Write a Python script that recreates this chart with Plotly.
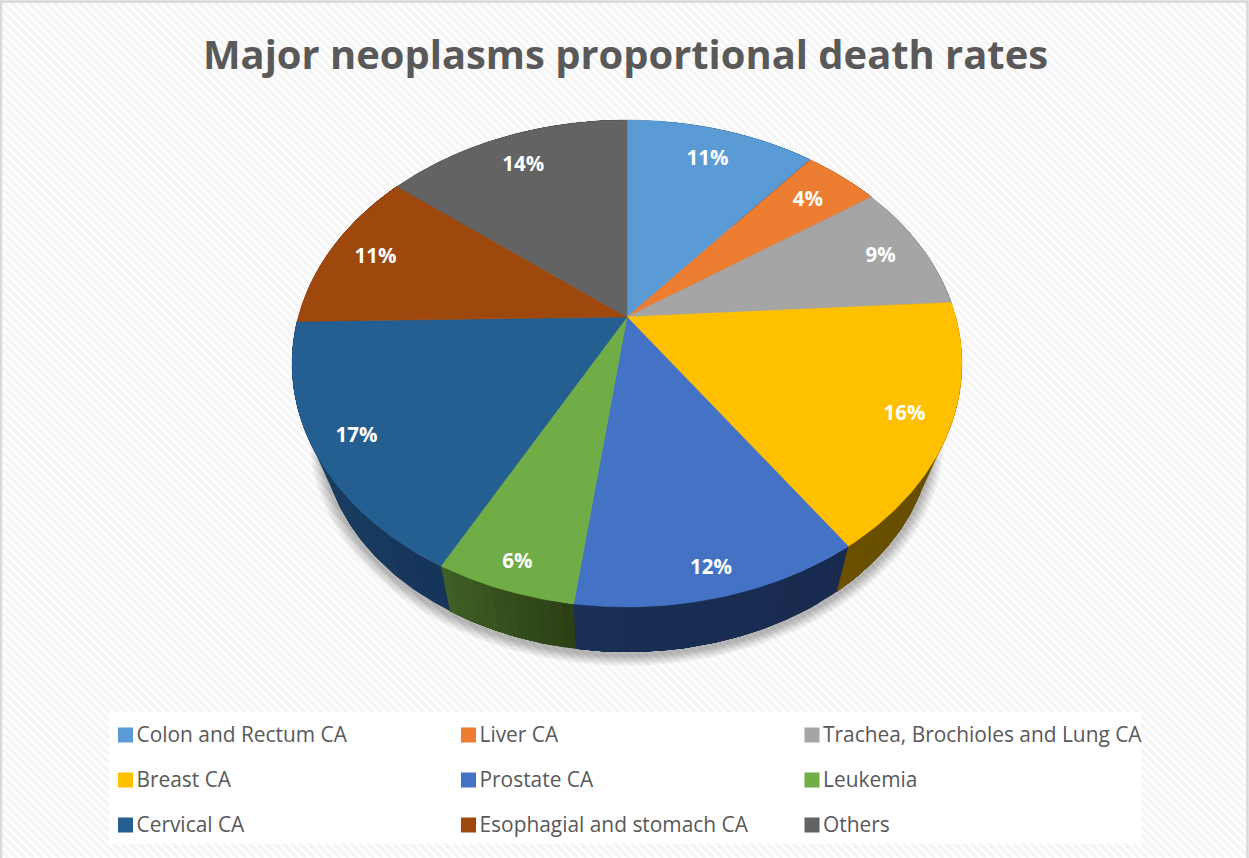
import numpy as np
import plotly.graph_objects as go

# ---- data ----
categories = ["Colon and Rectum CA", "Liver CA", "Trachea, Brochioles and Lung CA",
              "Breast CA", "Prostate CA", "Leukemia",
              "Cervical CA", "Esophagial and stomach CA", "Others"]
values = [11.0, 4.4, 8.6, 16.4, 11.7, 5.7, 16.9, 11.0, 14.3]
title_text = "Major neoplasms proportional death rates"

# ---- style ----
colors = ["#5B9BD5", "#ED7D31", "#A5A5A5", "#FFC000", "#4472C4", "#70AD47", "#255E91", "#9E480E", "#636363"]
side_start = ["#2F5D87", "#8A4A1D", "#636363", "#6A5000", "#1A2F55", "#3F5F24", "#1C4468", "#5F2B08", "#3B3B3B"]
side_end = ["#2F5D87", "#8A4A1D", "#636363", "#5F4800", "#182A4E", "#2C4015", "#15365A", "#5F2B08", "#3B3B3B"]
label_radius = [0.83, 0.825, 0.86, 0.87, 0.91, 0.91, 0.88, 0.85, 0.83]
W, H = 1249, 858
CX, CY = 627, 317
A, B, K = 328.8, 234.6, 0.191      # perspective projection of the pie's top face
A2, B2, K2, D2 = 296.5, 208, 0.24, 61.3   # same for its lower face
TEXT = "#595959"
FONT = "Open Sans"


def project(theta, r=1.0, a=A, b=B, k=K):
    u, v = r * np.sin(theta), -r * np.cos(theta)
    den = 1 - k * v
    return a * u / den, b * v / den


def top(theta, r=1.0):
    x, y = project(theta, r)
    return CX + x, CY + y


def bottom(theta):
    x, y = project(theta, 1.0, A2, B2, K2)
    return CX + x, CY + D2 + y


def mix(c0, c1, t):
    a = [int(c0[i:i + 2], 16) for i in (1, 3, 5)]
    b = [int(c1[i:i + 2], 16) for i in (1, 3, 5)]
    return "#%02x%02x%02x" % tuple(round(p + (q - p) * t) for p, q in zip(a, b))


total = sum(values)
edges = np.concatenate([[0], np.cumsum(values)]) / total * 2 * np.pi
arcs = [np.linspace(edges[i], edges[i + 1], 96) for i in range(len(values))]

fig = go.Figure()

# soft shadow round the lower rim
full = np.linspace(0, 2 * np.pi, 361)
for grow in [12, 10, 8, 6.5, 5, 3.5, 2]:
    bx, by = bottom(full)
    f = 1 + grow / 305
    fig.add_trace(go.Scatter(x=CX + (bx - CX) * f, y=CY + D2 + 3 + (by - CY - D2) * f,
                             mode="lines", fill="toself", line=dict(width=0),
                             fillcolor="rgba(0,0,0,0.045)", hoverinfo="skip", showlegend=False))

# rim, shaded along each slice; each band runs to the slice end so that no seams show
STRIPS = 12
for i, th in enumerate(arcs):
    step = len(th) // STRIPS
    for s in range(STRIPS):
        part = th[s * step:]
        tx, ty = top(part)
        bx, by = bottom(part)
        col = mix(side_end[i], side_start[i], s / (STRIPS - 1))
        fig.add_trace(go.Scatter(x=np.concatenate([tx, bx[::-1]]), y=np.concatenate([ty, by[::-1]]),
                                 mode="lines", fill="toself", line=dict(width=0),
                                 fillcolor=col, hoverinfo="skip", showlegend=False))

# top face
for i, th in enumerate(arcs):
    tx, ty = top(th)
    fig.add_trace(go.Scatter(x=np.concatenate([[CX], tx, [CX]]), y=np.concatenate([[CY], ty, [CY]]),
                             mode="lines", fill="toself", line=dict(width=0.5, color=colors[i]),
                             fillcolor=colors[i], name=categories[i], hoverinfo="name", showlegend=False))

# percentage labels
mids = (edges[:-1] + edges[1:]) / 2
lx, ly = zip(*[top(m, r) for m, r in zip(mids, label_radius)])
fig.add_trace(go.Scatter(x=lx, y=np.array(ly) + 2, mode="text",
                         text=[f"{round(v / total * 100)}%" for v in values],
                         textposition="middle center",
                         textfont=dict(family=FONT, size=20.5, color="white", weight="bold"),
                         hoverinfo="skip", showlegend=False))

# legend: 3 x 3 grid of swatches and names
col_x = [125.5, 468.5, 812]
row_y = [735, 780, 825]
leg_x = np.array([col_x[i % 3] for i in range(len(categories))])
leg_y = np.array([row_y[i // 3] for i in range(len(categories))])
fig.add_trace(go.Scatter(x=leg_x, y=leg_y, mode="markers",
                         marker=dict(symbol="square", size=15, color=colors, line=dict(width=0)),
                         hoverinfo="skip", showlegend=False))
fig.add_trace(go.Scatter(x=leg_x + 11, y=leg_y + 2, mode="text",
                         text=categories, textposition="middle right",
                         textfont=dict(family=FONT, size=20.9, color=TEXT),
                         hoverinfo="skip", showlegend=False))

# striped background
path = []
for c in np.arange(-H, W + 9, 8.5):
    path.append(f"M{c},0L{c + H},{H}")
shapes = [
    dict(type="path", xref="x", yref="y", path="".join(path), layer="below",
         line=dict(color="#f5f5f5", width=3.5)),
    dict(type="rect", xref="x", yref="y", x0=109, x1=1141, y0=712, y1=844, layer="below",
         fillcolor="rgba(255,255,255,0.85)", line=dict(width=0)),
    dict(type="rect", xref="x", yref="y", x0=1, x1=W - 1.5, y0=1.5, y1=H + 5, layer="below",
         fillcolor="rgba(0,0,0,0)", line=dict(color="#d9d9d9", width=2.5)),
]

fig.update_layout(
    width=W, height=H, margin=dict(l=0, r=0, t=0, b=0),
    paper_bgcolor="white", plot_bgcolor="rgba(0,0,0,0)", showlegend=False,
    title=dict(text=title_text, x=625.5 / W, xanchor="center", y=1 - 55 / H, yanchor="middle",
               font=dict(family=FONT, size=39.9, color=TEXT, weight="bold")),
    xaxis=dict(range=[0, W], visible=False, fixedrange=True),
    yaxis=dict(range=[H, 0], visible=False, fixedrange=True),
    shapes=shapes,
)
fig.write_html("out.html", config=dict(displayModeBar=False),
               post_script="document.body.style.margin='0';document.body.style.overflow='hidden';")
